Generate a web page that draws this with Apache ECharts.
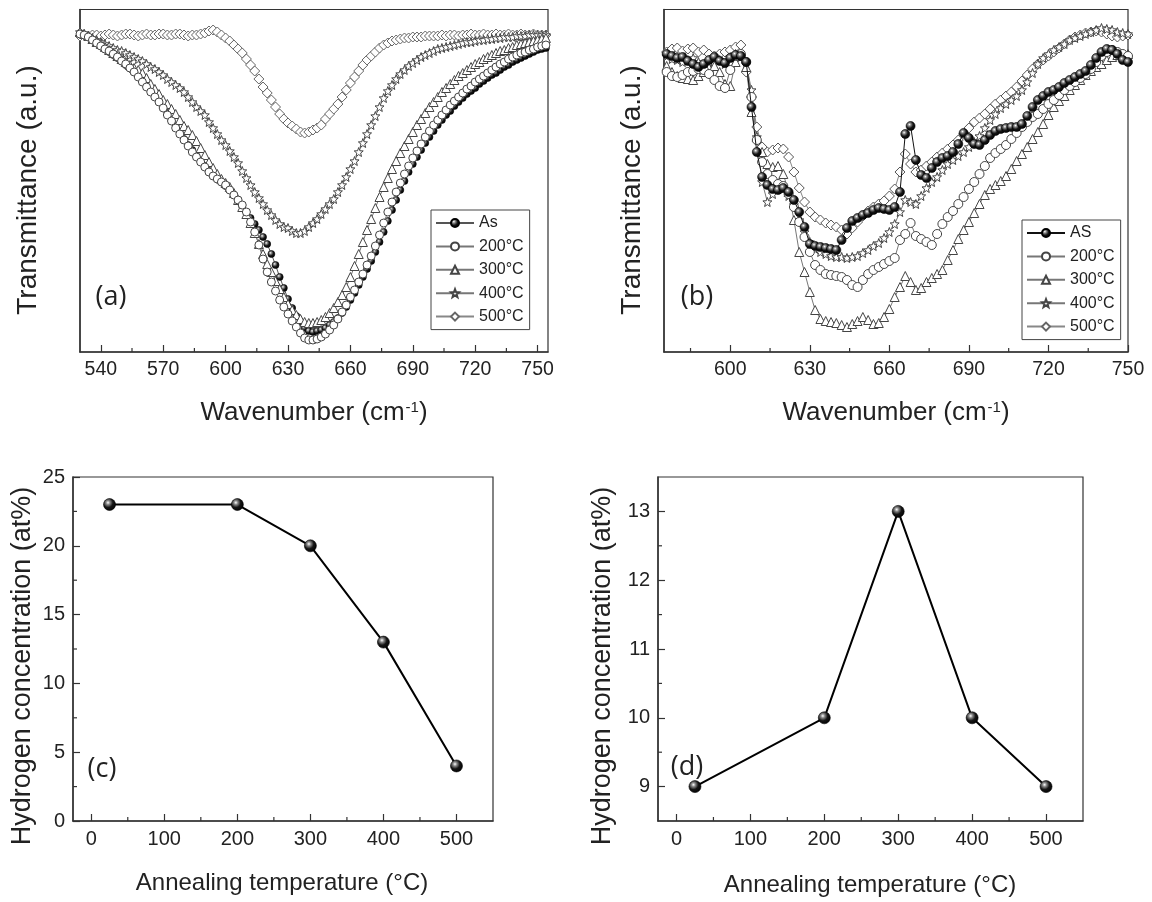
<!DOCTYPE html>
<html><head><meta charset="utf-8">
<script src="https://cdn.jsdelivr.net/npm/echarts@6/dist/echarts.min.js"></script>
<style>html,body{margin:0;padding:0;background:#fff}#c{width:1152px;height:902px}</style>
</head><body><div id="c"></div>
<script>
// ---------- Panel (a): wavenumber grid and transmittance (a.u.) ----------
const wnA = [
530,532,534,536,538,540,542,544,546,548,
550,552,554,556,558,560,562,564,566,568,
570,572,574,576,578,580,582,584,586,588,
590,592,594,596,598,600,602,604,606,608,
610,612,614,616,618,620,622,624,626,628,
630,632,634,636,638,640,642,644,646,648,
650,652,654,656,658,660,662,664,666,668,
670,672,674,676,678,680,682,684,686,688,
690,692,694,696,698,700,702,704,706,708,
710,712,714,716,718,720,722,724,726,728,
730,732,734,736,738,740,742,744,746,748,
750,752,754];
const aAs = [
319,317,315,312,309,306,303,300,297,294,
291,287,284,280,276,272,267,262,257,251,
245,239,232,226,219,213,207,202,196,191,
186,181,177,173,170,166,162,157,151,146,
140,134,128,122,115,108,98,87,75,64,
53,44,36,29,24,21,20,21,22,24,
27,30,34,39,45,52,59,67,75,83,
91,100,110,120,131,142,152,162,171,180,
188,195,202,209,215,221,227,232,237,241,
246,250,254,258,261,264,268,271,274,277,
279,282,285,287,290,292,294,296,298,300,
302,303,304];
const a200 = [
318,317,315,312,309,306,303,301,298,295,
291,288,284,280,275,270,265,260,255,250,
244,237,231,224,218,212,206,200,195,190,
185,180,176,173,170,167,162,157,152,147,
140,130,120,107,93,80,70,61,52,45,
38,31,25,19,14,12,12,13,15,18,
22,27,33,40,47,55,62,70,78,87,
96,106,117,129,140,150,160,169,178,186,
194,201,208,215,221,227,232,237,242,247,
251,255,259,263,266,270,273,276,279,282,
285,288,290,293,295,297,299,300,302,303,
305,306,307];
const a300 = [
320,318,316,313,310,308,305,302,299,296,
293,290,287,284,282,279,274,268,263,258,
252,248,243,238,232,226,222,217,211,204,
197,190,184,178,173,169,165,159,152,145,
138,129,119,108,98,88,80,71,63,55,
48,42,37,33,30,29,29,30,32,35,
39,44,50,57,65,75,86,98,110,122,
133,144,155,165,174,183,191,199,206,213,
220,227,233,239,245,250,255,260,264,268,
272,276,279,282,285,288,290,293,295,297,
299,301,302,304,305,307,308,309,310,311,
312,313,314];
const a400 = [
320,318,316,314,312,310,308,306,304,302,
301,299,297,295,293,291,288,285,283,280,
277,273,270,267,264,260,255,250,245,241,
237,230,224,218,212,207,201,195,189,181,
174,167,160,154,148,142,137,132,128,125,
124,121,119,119,121,125,129,133,138,143,
148,153,160,167,175,183,191,200,209,218,
227,236,245,254,261,267,273,278,282,286,
289,292,295,297,299,301,303,304,305,306,
307,308,309,310,310,311,312,312,313,313,
314,314,315,315,315,316,316,316,317,317,
317,317,317];
const a500 = [
316,317,316,317,317,316,317,318,317,316,
317,318,318,317,316,317,318,317,317,318,
318,317,317,318,318,317,316,317,317,318,
319,321,322,320,317,314,311,307,303,299,
293,287,281,273,265,259,252,245,238,233,
229,226,223,220,219,220,222,224,227,233,
238,243,248,255,262,269,275,281,287,292,
296,300,304,307,309,311,312,313,314,314,
315,315,315,316,316,316,316,317,316,317,
317,316,317,317,318,317,317,318,317,317,
318,317,317,318,317,317,318,317,317,318,
317,317,317];

// ---------- Panel (b) ----------
const wnB = [
576,578,580,582,584,586,588,590,592,594,
596,598,600,602,604,606,608,610,612,614,
616,618,620,622,624,626,628,630,632,634,
636,638,640,642,644,646,648,650,652,654,
656,658,660,662,664,666,668,670,672,674,
676,678,680,682,684,686,688,690,692,694,
696,698,700,702,704,706,708,710,712,714,
716,718,720,722,724,726,728,730,732,734,
736,738,740,742,744,746,748,750];
const bAS = [
298,296,294,295,291,288,285,288,292,295,
291,289,294,297,296,290,245,200,175,167,
163,162,164,160,152,140,125,108,106,105,
104,103,102,112,124,131,134,137,139,142,
144,143,142,145,160,218,226,192,177,174,
184,190,194,196,200,208,219,214,208,207,
212,217,221,223,224,225,225,228,236,245,
252,256,260,262,265,269,272,275,278,281,
287,294,300,303,302,298,292,290];
const b200 = [
280,276,275,277,280,281,283,282,278,272,
266,264,282,296,298,290,255,212,190,178,
172,168,166,158,145,130,115,100,87,82,
78,77,76,75,72,67,65,72,78,82,
85,88,91,94,112,118,129,116,113,110,
107,118,128,135,141,148,155,163,170,178,
186,194,199,203,207,213,219,225,230,235,
238,243,248,252,257,262,266,270,274,278,
283,290,296,300,302,300,298,296];
const b300 = [
286,280,276,274,273,272,276,280,284,286,
280,268,266,290,296,285,240,215,200,188,
185,186,178,160,132,100,80,60,42,33,
31,30,29,27,25,28,31,35,32,28,
29,35,43,55,65,76,70,62,64,70,
74,78,82,92,102,113,122,130,139,148,
157,163,167,171,176,183,191,198,205,213,
220,228,237,245,251,256,262,267,272,277,
281,285,288,292,295,297,298,298];
const b400 = [
296,293,292,290,292,294,290,286,290,294,
292,288,295,298,295,288,262,215,170,150,
158,165,163,156,147,132,120,110,103,100,
98,96,95,95,94,95,96,99,102,106,
109,114,120,128,140,152,150,148,156,164,
170,175,182,188,192,196,200,205,210,216,
224,232,238,244,248,252,256,262,270,279,
288,294,298,302,305,308,312,314,316,318,
320,322,324,323,322,320,319,318];
const b500 = [
300,303,304,301,303,304,300,302,298,296,
298,300,302,305,307,280,255,225,205,200,
202,204,203,195,180,164,150,140,135,132,
129,127,125,122,118,124,130,136,141,145,
148,151,156,163,180,198,188,180,182,186,
190,195,199,203,207,212,218,224,230,234,
238,243,248,252,256,260,265,271,277,283,
288,292,296,300,304,308,312,315,317,319,
320,321,320,318,316,315,316,317];

// ---------- Panels (c), (d) ----------
const tempC = [25, 200, 300, 400, 500];
const hydC = [23, 23, 20, 13, 4];
const hydD = [9, 10, 13, 10, 9];

// ---------- tick values ----------
const ticksA = [540,570,600,630,660,690,720,750];
const minorA = [555,585,615,645,675,705,735];
const ticksB = [600,630,660,690,720,750];
const minorB = [585,615,645,675,705,735];
const ticksT = [0,100,200,300,400,500];
const minorT = [50,150,250,350,450];
const ticksYC = [0,5,10,15,20,25];
const minorYC = [2.5,7.5,12.5,17.5,22.5];
const ticksYD = [9,10,11,12,13];
const minorYD = [9.5,10.5,11.5,12.5];
const namesA = ['As','200°C','300°C','400°C','500°C'];
const namesB = ['AS','200°C','300°C','400°C','500°C'];

const FONT = '"Liberation Sans", Arial, sans-serif';
const AX = '#333';
const sphere = {type:'radial', x:0.38, y:0.35, r:0.7, colorStops:[
  {offset:0, color:'#ffffff'},{offset:0.22, color:'#8a8a8a'},{offset:0.55, color:'#151515'},{offset:1, color:'#000'}]};
const STAR = 'path://M12,1 L14.9,8.6 L23,9 L16.7,14.1 L18.8,22 L12,17.6 L5.2,22 L7.3,14.1 L1,9 L9.1,8.6 Z';

function pairs(xs, ys){ const n = Math.min(xs.length, ys.length); const o=[]; for(let i=0;i<n;i++) o.push([xs[i], ys[i]]); return o; }

function spec(name, xs, ys, idx, symbol, size, filled, lineColor, stroke, z){
  return {
    type:'line', name, xAxisIndex: idx, yAxisIndex: idx, data: pairs(xs, ys), z: z || 2,
    symbol, symbolSize: size, showAllSymbol: true, animation: false,
    lineStyle: {color: lineColor, width: 1},
    itemStyle: filled ? {color: sphere, borderColor:'#000', borderWidth:0.6}
                      : {color:'#fff', borderColor: stroke, borderWidth:1},
    emphasis: {disabled: true}
  };
}

function specX(idx, min, max, ticks, size){
  return {type:'value', gridIndex: idx, min, max,
    axisLine:{show:true, onZero:false, lineStyle:{color:AX, width:1.5}},
    axisTick:{show:true, inside:true, length:7, customValues: ticks, lineStyle:{color:AX, width:1.2}},
    axisLabel:{show:true, customValues: ticks, fontSize:size, fontFamily:FONT, color:'#222', margin:8},
    splitLine:{show:false}};
}
function specY(idx, min, max, ticks){
  const ax = {type:'value', gridIndex: idx, min, max,
    axisLine:{show:true, onZero:false, lineStyle:{color:AX, width:1.5}},
    splitLine:{show:false}};
  if (ticks) {
    ax.axisTick = {show:true, inside:true, length:7, customValues: ticks, lineStyle:{color:AX, width:1.2}};
    ax.axisLabel = {show:true, customValues: ticks, fontSize:20, fontFamily:FONT, color:'#222', margin:8};
  } else {
    ax.axisTick = {show:false}; ax.axisLabel = {show:false};
  }
  return ax;
}

const gridStyle = {show:true, borderColor:AX, borderWidth:1.2, backgroundColor:'transparent'};
const legendBase = {orient:'vertical', itemWidth:38, itemHeight:10, itemGap:7.4,
  padding:[5,6,5,4], borderColor:'#444', borderWidth:1, backgroundColor:'#fff',
  textStyle:{fontSize:16, fontFamily:FONT, color:'#222'}, selectedMode:false};

const option = {
  animation: false,
  backgroundColor: '#fff',
  grid: [
    Object.assign({left:80, top:9.5, width:468, height:342.5}, gridStyle),
    Object.assign({left:664, top:9.5, width:464, height:342.5}, gridStyle),
    Object.assign({left:73, top:477, width:420, height:344}, gridStyle),
    Object.assign({left:658, top:477, width:425, height:344}, gridStyle)
  ],
  xAxis: [specX(0, 530, 755, ticksA, 19.5), specX(1, 575, 750, ticksB, 19.5),
          specX(2, -25, 550, ticksT, 20), specX(3, -25, 550, ticksT, 20)],
  yAxis: [specY(0, 0, 342.5), specY(1, 0, 342.5), specY(2, 0, 25, ticksYC), specY(3, 8.5, 13.5, ticksYD)],
  legend: [
    Object.assign({data: namesA, left:431, top:210}, legendBase),
    Object.assign({data: namesB, left:1022, top:220}, legendBase)
  ],
  series: [
    spec(namesA[0], wnA, aAs, 0, 'circle', 7, true, '#555', '#000', 1),
    spec(namesA[4], wnA, a500, 0, 'diamond', 10, false, '#888', '#666', 2),
    spec(namesA[3], wnA, a400, 0, STAR, 9, false, '#777', '#444', 2),
    spec(namesA[2], wnA, a300, 0, 'triangle', 9, false, '#777', '#444', 2),
    spec(namesA[1], wnA, a200, 0, 'circle', 8, false, '#777', '#444', 2),
    spec(namesB[4], wnB, b500, 1, 'diamond', 10, false, '#888', '#555', 2),
    spec(namesB[3], wnB, b400, 1, STAR, 9, false, '#777', '#444', 2),
    spec(namesB[2], wnB, b300, 1, 'triangle', 9, false, '#777', '#444', 2),
    spec(namesB[1], wnB, b200, 1, 'circle', 9, false, '#777', '#444', 2),
    spec(namesB[0], wnB, bAS, 1, 'circle', 9, true, '#111', '#000', 3),
    {type:'line', name:'H (c)', xAxisIndex:2, yAxisIndex:2, data: pairs(tempC, hydC), symbol:'circle', symbolSize:12,
      lineStyle:{color:'#000', width:2}, itemStyle:{color:sphere, borderColor:'#000', borderWidth:0.6}, emphasis:{disabled:true}},
    {type:'line', name:'H (d)', xAxisIndex:3, yAxisIndex:3, data: pairs(tempC, hydD), symbol:'circle', symbolSize:12,
      lineStyle:{color:'#000', width:2}, itemStyle:{color:sphere, borderColor:'#000', borderWidth:0.6}, emphasis:{disabled:true}}
  ]
};

const chart = echarts.init(document.getElementById('c'), null, {renderer:'canvas'});
chart.setOption(option);

function txt(x, y, text, size, rot, family, rich){
  return {type:'text', x, y, rotation: rot || 0, silent:true, z:100,
    style:{text, fontSize:size, fontFamily: family || FONT, fill:'#222',
      align:'center', verticalAlign:'middle', textAlign:'center', textVerticalAlign:'middle', rich}};
}
const supRich = {sup:{fontSize:15, fontFamily:FONT, fill:'#222', verticalAlign:'top', padding:[0,0,0,1]}};
const OPEN = '"Open Sans", "Liberation Sans", sans-serif';
const els = [
  txt(314, 413, 'Wavenumber (cm{sup|-1})', 26, 0, FONT, supRich),
  txt(896, 413, 'Wavenumber (cm{sup|-1})', 26, 0, FONT, supRich),
  txt(28, 190, 'Transmittance (a.u.)', 28, Math.PI/2),
  txt(632, 190, 'Transmittance (a.u.)', 28, Math.PI/2),
  txt(282, 883, 'Annealing temperature (°C)', 24),
  txt(870, 885, 'Annealing temperature (°C)', 24),
  txt(22.5, 666, 'Hydrogen concentration (at%)', 27, Math.PI/2),
  txt(603, 666, 'Hydrogen concentration (at%)', 27, Math.PI/2),
  txt(111, 297, '(a)', 27, 0, OPEN),
  txt(697, 297, '(b)', 27, 0, OPEN),
  txt(102, 769, '(c)', 27, 0, OPEN),
  txt(687, 767, '(d)', 27, 0, OPEN)
];
function minorX(axisIdx, vals, ymin){
  const yb = chart.convertToPixel({yAxisIndex: axisIdx}, ymin);
  vals.forEach(v => {
    const x = chart.convertToPixel({xAxisIndex: axisIdx}, v);
    els.push({type:'line', silent:true, z:50, shape:{x1:x, y1:yb, x2:x, y2:yb-4}, style:{stroke:AX, lineWidth:1.2}});
  });
}
function minorY(axisIdx, vals, xmin){
  const xl = chart.convertToPixel({xAxisIndex: axisIdx}, xmin);
  vals.forEach(v => {
    const y = chart.convertToPixel({yAxisIndex: axisIdx}, v);
    els.push({type:'line', silent:true, z:50, shape:{x1:xl, y1:y, x2:xl+4, y2:y}, style:{stroke:AX, lineWidth:1.2}});
  });
}
minorX(0, minorA, 0); minorX(1, minorB, 0); minorX(2, minorT, 0); minorX(3, minorT, 8.5);
minorY(2, minorYC, -25); minorY(3, minorYD, -25);
chart.setOption({graphic:{elements: els}});
</script></body></html>
